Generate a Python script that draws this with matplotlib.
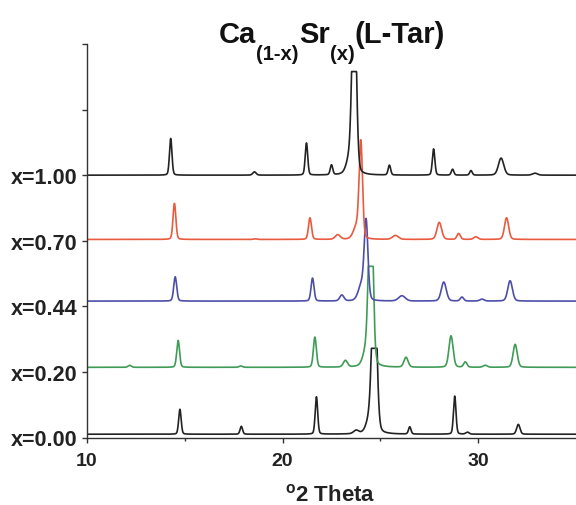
import matplotlib.pyplot as plt
import numpy as np

plt.rcParams['font.family'] = 'Liberation Sans'
plt.rcParams['font.weight'] = 'bold'
plt.rcParams['mathtext.fontset'] = 'custom'
plt.rcParams['mathtext.rm'] = 'Liberation Sans:bold'
plt.rcParams['mathtext.it'] = 'Liberation Sans:bold'
plt.rcParams['mathtext.bf'] = 'Liberation Sans:bold'

# stacked samples, bottom to top
labels = ['x=0.00', 'x=0.20', 'x=0.44', 'x=0.70', 'x=1.00']
offsets = [0, 1, 2, 3, 4]
baselines = [0.05, 0.07, 0.08, 0.02, 0.0]
colors = ['#232323', '#3f9b56', '#4c4ea8', '#ea5a3f', '#232323']

# peak lists: position (deg 2theta), height, fwhm
pos_000 = [14.75, 17.89, 21.73, 23.76, 24.45, 24.69, 26.50, 28.80, 29.45, 32.05]
hgt_000 = [0.38, 0.12, 0.57, 0.05, 0.20, 2.60, 0.11, 0.58, 0.03, 0.15]
wid_000 = [0.15, 0.15, 0.15, 0.30, 0.40, 0.28, 0.15, 0.15, 0.20, 0.20]
cap_000 = 1.31

pos_020 = [12.18, 14.66, 17.86, 21.65, 23.21, 24.30, 24.51, 26.31, 28.61, 29.34, 30.36, 31.89]
hgt_020 = [0.03, 0.41, 0.02, 0.46, 0.10, 0.25, 3.00, 0.15, 0.48, 0.08, 0.03, 0.35]
wid_020 = [0.20, 0.17, 0.20, 0.18, 0.25, 0.40, 0.25, 0.25, 0.25, 0.20, 0.25, 0.25]
cap_020 = 1.54

pos_044 = [14.51, 21.53, 23.03, 24.05, 24.27, 26.10, 28.24, 29.17, 30.19, 31.63]
hgt_044 = [0.37, 0.35, 0.09, 0.25, 1.15, 0.08, 0.29, 0.06, 0.03, 0.31]
wid_044 = [0.18, 0.18, 0.25, 0.40, 0.22, 0.40, 0.30, 0.20, 0.25, 0.28]
cap_044 = None

pos_070 = [14.47, 18.60, 21.40, 22.82, 23.80, 24.00, 25.77, 28.01, 29.00, 29.88, 31.45]
hgt_070 = [0.55, 0.01, 0.33, 0.07, 0.20, 1.42, 0.06, 0.26, 0.09, 0.04, 0.33]
wid_070 = [0.17, 0.20, 0.18, 0.30, 0.40, 0.20, 0.35, 0.28, 0.20, 0.25, 0.25]
cap_070 = None

pos_100 = [14.28, 18.56, 21.22, 22.50, 23.45, 23.66, 25.46, 27.72, 28.69, 29.63, 31.17, 32.90]
hgt_100 = [0.56, 0.05, 0.49, 0.15, 0.25, 3.00, 0.15, 0.40, 0.09, 0.07, 0.26, 0.03]
wid_100 = [0.15, 0.20, 0.15, 0.15, 0.40, 0.25, 0.15, 0.15, 0.15, 0.15, 0.32, 0.30]
cap_100 = 1.58

peaks = [(pos_000, hgt_000, wid_000, cap_000),
         (pos_020, hgt_020, wid_020, cap_020),
         (pos_044, hgt_044, wid_044, cap_044),
         (pos_070, hgt_070, wid_070, cap_070),
         (pos_100, hgt_100, wid_100, cap_100)]

tt = np.linspace(10, 35, 3001)


def pattern(pos, hgt, wid, cap):
    y = np.zeros_like(tt)
    for p, h, w in zip(pos, hgt, wid):
        g = np.exp(-0.5 * ((tt - p) / (w / 2.3548)) ** 2)
        lor = 1.0 / (1.0 + ((tt - p) / (w / 2)) ** 2)
        y += h * (0.8 * g + 0.2 * lor)
    if cap is not None:
        y = np.minimum(y, cap)
    return y


fig = plt.figure(figsize=(5.76, 5.06), dpi=100)
ax = fig.add_axes([87 / 576, 1 - 438.5 / 506, 1 - 87 / 576, (438.5 - 45) / 506])

for (pos, hgt, wid, cap), off, base, col in zip(peaks, offsets, baselines, colors):
    ax.plot(tt, off + base + pattern(pos, hgt, wid, cap), color=col, lw=1.2)

ax.set_xlim(10, 35)
ax.set_ylim(0, 6)
ax.set_xticks([10, 20, 30])
ax.set_xticks([15, 25], minor=True)
ax.set_yticks([0, 1, 2, 3, 4, 5, 6])
ax.set_yticklabels(labels + ['', ''])
for s in ['top', 'right']:
    ax.spines[s].set_visible(False)
for s in ['left', 'bottom']:
    ax.spines[s].set_linewidth(1.0)
    ax.spines[s].set_color('#333333')
ax.tick_params(axis='both', which='major', direction='out', length=3.6, width=1.0,
               labelsize=14, colors='#333333', labelcolor='#222222')
ax.tick_params(axis='y', which='major', pad=3, labelsize=15.5)
ax.tick_params(axis='x', which='major', pad=7)
ax.tick_params(axis='x', which='minor', direction='out', length=2.5, width=1.0, colors='#333333')

fig.text(330.5 / 576, 1 - 501 / 506, r'$^{\mathrm{o}}$2 Theta', ha='center', va='baseline',
         fontsize=16, fontweight='bold', color='#222222')

# title with deep subscripts, built piece by piece
renderer = fig.canvas.get_renderer()
pieces = [('Ca', 21, 43), ('(1-x)', 14.5, 60), ('Sr', 21, 43), ('(x)', 14.5, 60), ('(L-Tar)', 21, 43)]
texts = []
x = 0.0
for s, size, ybase in pieces:
    t = fig.text(x, 1 - ybase / 506, s, ha='left', va='baseline', fontsize=size,
                 fontweight='bold', color='#111111')
    w = t.get_window_extent(renderer).width / fig.bbox.width
    texts.append((t, x))
    x += w
shift = 332 / 576 - x / 2
for t, x0 in texts:
    t.set_x(x0 + shift)

fig.savefig('out.png', dpi=100)
